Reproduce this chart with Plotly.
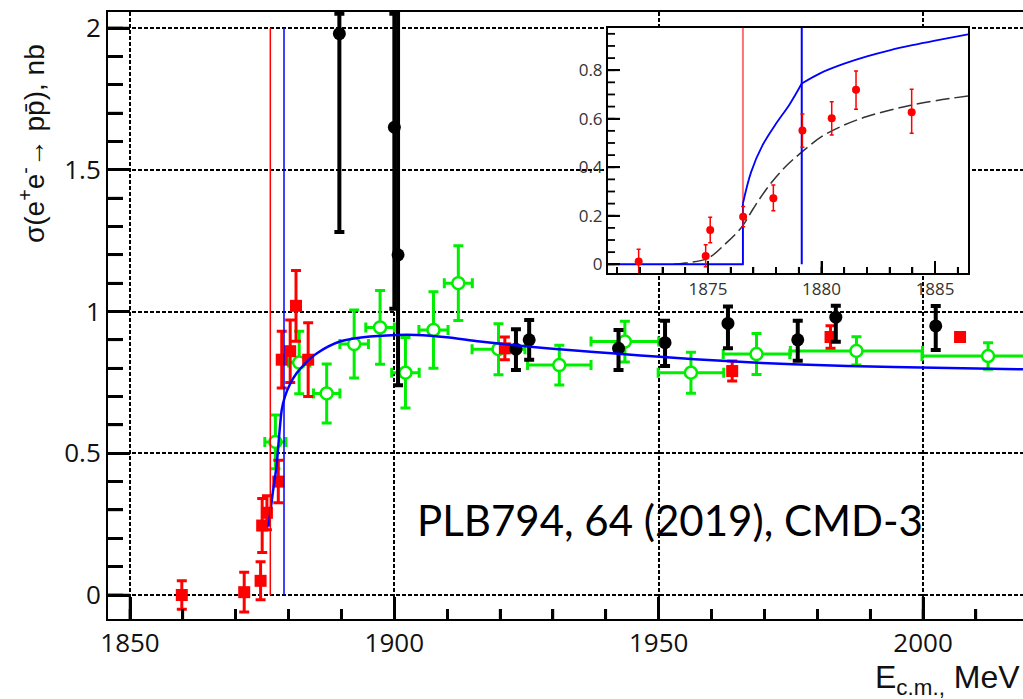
import numpy as np
import plotly.graph_objects as go

# ---------------- data ----------------
# thresholds (p pbar and n nbar), MeV
thr_p = 1876.54
thr_n = 1879.13
thr_top_main = 2.0

# red squares
red_x = [1859.8, 1871.6, 1874.7, 1875.0, 1875.9, 1878.05, 1878.7, 1880.3, 1881.4, 1883.7, 1920.9, 1963.9, 1982.5, 2007.0]
red_y = [0.00, 0.01, 0.05, 0.245, 0.29, 0.40, 0.83, 0.86, 1.02, 0.83, 0.87, 0.79, 0.91, 0.91]
red_e = [0.05, 0.07, 0.067, 0.095, 0.06, 0.075, 0.10, 0.11, 0.125, 0.13, 0.04, 0.035, 0.04, 0.015]

# black circles (asymmetric errors)
blk_x = [1889.6, 1900.0, 1900.7, 1923.0, 1925.5, 1942.4, 1951.2, 1963.1, 1976.3, 1983.5, 2002.4]
blk_y = [1.98, 1.65, 1.20, 0.867, 0.90, 0.87, 0.89, 0.958, 0.90, 0.98, 0.949]
blk_up = [0.07, 0.40, 0.90, 0.07, 0.07, 0.065, 0.077, 0.06, 0.067, 0.04, 0.07]
blk_dn = [0.70, 0.64, 0.46, 0.073, 0.07, 0.076, 0.082, 0.088, 0.074, 0.087, 0.085]

# green open circles
grn_x = [1877.5, 1882.0, 1887.2, 1892.4, 1897.3, 1902.1, 1907.4, 1912.1, 1919.7, 1931.2, 1943.6, 1956.1, 1968.5, 1987.4, 2012.3]
grn_y = [0.54, 0.82, 0.711, 0.885, 0.944, 0.784, 0.935, 1.10, 0.867, 0.811, 0.894, 0.784, 0.85, 0.861, 0.843]
grn_ey = [0.095, 0.11, 0.104, 0.12, 0.13, 0.124, 0.135, 0.132, 0.09, 0.07, 0.072, 0.072, 0.072, 0.05, 0.047]
grn_ex = [2.0, 2.0, 2.5, 2.7, 2.7, 2.6, 2.75, 2.65, 5.0, 6.0, 6.4, 6.2, 6.3, 12.5, 12.5]

# blue fit curve (main)
fit_x = [1876.2, 1877.0, 1877.7, 1878.7, 1879.3, 1880.3, 1881.5, 1883.3, 1885.3, 1889.7, 1894.1, 1900.4,
         1904.2, 1909.9, 1916.2, 1925.7, 1933.0, 1942.4, 1950.2, 1962.8, 1975.4, 1994.4, 2018.9]
fit_y = [0.241, 0.36, 0.453, 0.653, 0.70, 0.745, 0.782, 0.82, 0.852, 0.894, 0.909, 0.917,
         0.917, 0.909, 0.894, 0.876, 0.864, 0.851, 0.840, 0.825, 0.814, 0.804, 0.796]

# inset data
ins_x = [1871.95, 1874.9, 1875.1, 1876.55, 1877.88, 1879.16, 1880.45, 1881.52, 1883.97]
ins_y = [0.011, 0.034, 0.141, 0.196, 0.272, 0.551, 0.602, 0.719, 0.627]
ins_up = [0.051, 0.046, 0.053, 0.042, 0.055, 0.068, 0.068, 0.078, 0.095]
ins_dn = [0.05, 0.044, 0.052, 0.041, 0.051, 0.069, 0.069, 0.080, 0.087]

# inset blue curve: flat part + jump, rise between thresholds, tail above n-nbar threshold
ins_flat_x = [1870.6, 1876.54, 1876.54]
ins_flat_y = [0.0, 0.0, 0.25]
ins_rise_x = [1876.54, 1876.9, 1877.4, 1878.0, 1878.6, 1879.13]
ins_rise_y = [0.25, 0.38, 0.49, 0.58, 0.66, 0.745]
ins_tail_x = [1879.13, 1880.0, 1881.0, 1882.0, 1883.0, 1884.0, 1885.0, 1886.45]
ins_tail_y = [0.745, 0.79, 0.827, 0.857, 0.882, 0.903, 0.922, 0.948]

ins_dash_x = [1873.5, 1874.0, 1875.0, 1875.8, 1876.5, 1877.0, 1877.5, 1878.0, 1878.5, 1879.1, 1880.0, 1881.0, 1882.0, 1884.0, 1886.45]
ins_dash_y = [0.0, 0.005, 0.025, 0.087, 0.155, 0.23, 0.30, 0.36, 0.41, 0.46, 0.526, 0.574, 0.609, 0.657, 0.694]
ins_top = 0.974

x_ticks = [1850, 1900, 1950, 2000]
y_ticks = [0, 0.5, 1, 1.5, 2]
ins_x_ticks = [1875, 1880, 1885]
ins_y_ticks = [0, 0.2, 0.4, 0.6, 0.8]

# ---------------- layout geometry ----------------
W, H = 1023, 699
ML, MR, MT, MB = 108, 0, 12, 80
PW, PH = W - ML - MR, H - MT - MB


def px(xp):
    return (xp - ML) / PW


def py(yp):
    return (H - MB - yp) / PH


FONT = "Liberation Sans"

# main-axis ranges from pixel geometry: 1850 -> x=130, 5.287 px/MeV ; y=0 -> 595, 283.5 px/unit
X0 = 1850 - (130 - ML) / 5.287
X1 = 1850 + (W - MR - 130) / 5.287
Y1 = (595 - MT) / 283.5
Y0 = -((H - MB) - 595) / 283.5
IX0, IX1 = 1870.6, 1886.45
IY0, IY1 = -0.036, 0.974
ins_dom_x = [px(608), px(968)]
ins_dom_y = [py(273), py(28)]

fig = go.Figure()

# green
fig.add_trace(go.Scatter(
    x=grn_x, y=grn_y, mode="markers",
    marker=dict(symbol="circle", size=12, color="white", line=dict(color="#00ee00", width=2.5)),
    error_y=dict(type="data", array=grn_ey, color="#00ee00", thickness=3, width=5),
    error_x=dict(type="data", array=grn_ex, color="#00ee00", thickness=3, width=5),
    showlegend=False))
# red
fig.add_trace(go.Scatter(
    x=red_x, y=red_y, mode="markers",
    marker=dict(symbol="square", size=12, color="#ff0000"),
    error_y=dict(type="data", array=red_e, color="#ff0000", thickness=3, width=5),
    showlegend=False))
# black
fig.add_trace(go.Scatter(
    x=blk_x, y=blk_y, mode="markers",
    marker=dict(symbol="circle", size=13, color="black"),
    error_y=dict(type="data", symmetric=False, array=blk_up, arrayminus=blk_dn,
                 color="black", thickness=4, width=5),
    showlegend=False))
# fit curve
fig.add_trace(go.Scatter(x=fit_x, y=fit_y, mode="lines",
                         line=dict(color="#0000ff", width=2.5, shape="spline", smoothing=0.8),
                         showlegend=False))
# threshold lines
fig.add_trace(go.Scatter(x=[thr_p, thr_p], y=[0, thr_top_main], mode="lines",
                         line=dict(color="#ff0000", width=1.5), showlegend=False))
fig.add_trace(go.Scatter(x=[thr_n, thr_n], y=[0, thr_top_main], mode="lines",
                         line=dict(color="#0000ff", width=1.5), showlegend=False))

# ---------- inset ----------
fig.add_trace(go.Scatter(x=ins_dash_x, y=ins_dash_y, mode="lines", xaxis="x2", yaxis="y2",
                         line=dict(color="#333333", width=1.5, dash="14px,5px", shape="spline"),
                         showlegend=False))
fig.add_trace(go.Scatter(x=[thr_p, thr_p], y=[0, ins_top], mode="lines", xaxis="x2", yaxis="y2",
                         line=dict(color="#ff7070", width=2), showlegend=False))
fig.add_trace(go.Scatter(x=[thr_n, thr_n], y=[0, ins_top], mode="lines", xaxis="x2", yaxis="y2",
                         line=dict(color="#0000ff", width=2), showlegend=False))
for cx, cy, shp in ((ins_flat_x, ins_flat_y, "linear"),
                    (ins_rise_x, ins_rise_y, "spline"),
                    (ins_tail_x, ins_tail_y, "spline")):
    fig.add_trace(go.Scatter(x=cx, y=cy, mode="lines", xaxis="x2", yaxis="y2",
                             line=dict(color="#0000ff", width=1.8, shape=shp), showlegend=False))
fig.add_trace(go.Scatter(
    x=ins_x, y=ins_y, mode="markers", xaxis="x2", yaxis="y2",
    marker=dict(symbol="circle", size=8, color="#ff0000"),
    error_y=dict(type="data", symmetric=False, array=ins_up, arrayminus=ins_dn,
                 color="#ff0000", thickness=1.5, width=2),
    showlegend=False))

# ---------- tick marks (axis-referenced shapes, in addition to the axis ticks) ----------
tick_shapes = []


def xticks(xref, vals, y_base, length, width):
    for v in vals:
        tick_shapes.append(dict(type="line", xref=xref, yref="paper", x0=float(v), x1=float(v),
                                y0=y_base, y1=y_base + length / PH,
                                line=dict(color="black", width=width), layer="above"))


def yticks(yref, vals, x_base, length, width):
    for v in vals:
        tick_shapes.append(dict(type="line", xref="paper", yref=yref, y0=float(v), y1=float(v),
                                x0=x_base, x1=x_base + length / PW,
                                line=dict(color="black", width=width), layer="above"))


x_minor = np.arange(x_ticks[0], X1, 10.0)
y_minor = np.arange(y_ticks[0], Y1, 0.1)
xticks("x", x_minor, 0, 10, 2.5)
xticks("x", x_ticks, 0, 22, 2.5)
yticks("y", y_minor, 0, 15, 2.5)
yticks("y", y_ticks, 0, 22, 2.5)
ix_minor = np.arange(1871, IX1, 1.0)
iy_minor = np.arange(0, IY1, 0.05)
xticks("x2", ix_minor, ins_dom_y[0], 6, 1.8)
xticks("x2", ins_x_ticks, ins_dom_y[0], 12, 1.8)
yticks("y2", iy_minor, ins_dom_x[0], 7, 1.8)
yticks("y2", ins_y_ticks, ins_dom_x[0], 12, 1.8)

grid = dict(showgrid=True, gridcolor="black", gridwidth=1.5, griddash="4px,2px")

fig.update_layout(
    width=W, height=H,
    margin=dict(l=ML, r=MR, t=MT, b=MB, pad=0),
    paper_bgcolor="white", plot_bgcolor="white", showlegend=False,
    xaxis=dict(range=[X0, X1], tickmode="linear", tick0=x_ticks[0], dtick=x_ticks[1] - x_ticks[0],
               ticks="inside", ticklen=22, tickwidth=2.5,
               tickcolor="black", showline=True, mirror=True, linecolor="black", linewidth=2,
               zeroline=False, tickfont=dict(size=26, color="#111"),
               minor=dict(dtick=10, tick0=1850, ticks="inside", ticklen=10, tickwidth=2.5,
                          tickcolor="black", showgrid=False),
               **grid),
    yaxis=dict(range=[Y0, Y1], tickmode="linear", tick0=y_ticks[0], dtick=y_ticks[1] - y_ticks[0],
               ticks="inside", ticklen=22, tickwidth=2.5,
               tickcolor="black", showline=True, linecolor="black", linewidth=2,
               zeroline=False, tickfont=dict(size=26, color="#111"),
               minor=dict(dtick=0.1, ticks="inside", ticklen=15, tickwidth=2.5,
                          tickcolor="black"),
               **grid),
    xaxis2=dict(domain=ins_dom_x, anchor="y2", range=[IX0, IX1],
                tickmode="linear", tick0=ins_x_ticks[0], dtick=ins_x_ticks[1] - ins_x_ticks[0],
                ticks="inside", ticklen=12, tickwidth=1.8,
                tickcolor="black", showline=True, mirror=True, linecolor="black", linewidth=2,
                showgrid=False, zeroline=False, tickfont=dict(size=17, color="#333"),
                minor=dict(dtick=1, tick0=1870, ticks="inside", ticklen=6, tickwidth=1.8,
                           tickcolor="black", showgrid=False)),
    yaxis2=dict(domain=ins_dom_y, anchor="x2", range=[IY0, IY1],
                tickmode="linear", tick0=ins_y_ticks[0], dtick=ins_y_ticks[1] - ins_y_ticks[0],
                ticks="inside", ticklen=12, tickwidth=1.8,
                tickcolor="black", showline=True, mirror=True, linecolor="black", linewidth=2,
                showgrid=False, zeroline=False, tickfont=dict(size=17, color="#333")),
    shapes=[
        # white panel behind the inset (hides main grid lines)
        dict(type="rect", xref="paper", yref="paper", x0=px(563), x1=px(992), y0=py(303), y1=py(14),
             fillcolor="white", line=dict(width=0), layer="between"),
    ] + tick_shapes,
    annotations=[
        dict(text="σ(e<sup>+</sup>e<sup>-</sup>→ pp̄), nb", textangle=-90, xref="paper", yref="paper",
             x=px(32), y=py(144), xanchor="center", yanchor="middle", showarrow=False,
             font=dict(size=28, color="#111", family=FONT)),
        dict(text="E<sub>c.m.,</sub> MeV", xref="paper", yref="paper", x=px(1022), y=py(679),
             xanchor="right", yanchor="middle", showarrow=False,
             font=dict(size=32, color="#111", family=FONT)),
        dict(text="PLB794, 64 (2019), CMD-3", xref="paper", yref="paper", x=px(670), y=py(520),
             xanchor="center", yanchor="middle", showarrow=False,
             font=dict(size=42, color="black", family="Lato")),
    ],
)

fig.write_html("out.html")
